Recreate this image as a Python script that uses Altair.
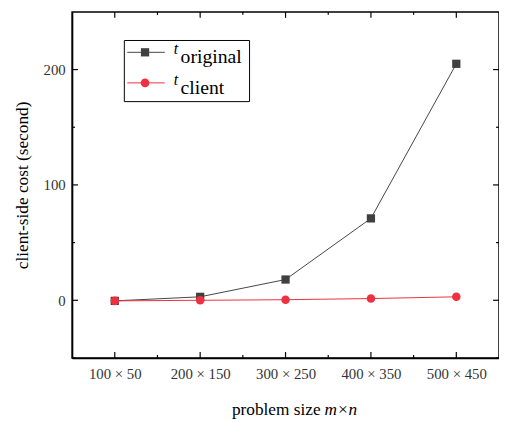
import altair as alt
import pandas as pd
import json

sizes = ["100 × 50", "200 × 150", "300 × 250", "400 × 350", "500 × 450"]
t_original = [-0.5, 3, 18, 71, 205]
t_client = [-0.5, 0, 0.5, 1.5, 3]

W, H = 433, 351
idx = list(range(len(sizes)))
df = pd.DataFrame({"i": idx + idx,
                   "v": t_original + t_client,
                   "s": ["original"] * 5 + ["client"] * 5})

xs = alt.Scale(domain=[-0.5, 4.5], nice=False, zero=False)
ys = alt.Scale(domain=[-50, 250], nice=False, zero=False)
FONT = "Times New Roman, Liberation Serif, serif"
labexpr = "%s[round(datum.value)]" % json.dumps(sizes)

xax = alt.Axis(values=idx, labelExpr=labexpr, ticks=False, grid=False, domainColor="black",
               domainWidth=1.5, labelFont=FONT, labelFontSize=15, labelColor="#333",
               labelPadding=9, title=None)
yax = alt.Axis(values=[0, 100, 200], ticks=False, grid=False, domainColor="black",
               domainWidth=1.5, labelFont=FONT, labelFontSize=15, labelColor="#333",
               labelPadding=7, title="client-side cost (second)", titleFont=FONT,
               titleFontSize=17.5, titleFontWeight="normal", titleColor="black", titlePadding=12)

base = alt.Chart(df)
orig = base.transform_filter("datum.s=='original'")
cli = base.transform_filter("datum.s=='client'")

l_orig = orig.mark_line(color="#444", strokeWidth=1).encode(
    x=alt.X("i:Q", scale=xs, axis=xax), y=alt.Y("v:Q", scale=ys, axis=yax))
p_orig = orig.mark_square(color="#404040", size=70, opacity=1).encode(
    x=alt.X("i:Q", scale=xs), y=alt.Y("v:Q", scale=ys))
l_cli = cli.mark_line(color="#e8323c", strokeWidth=1).encode(
    x=alt.X("i:Q", scale=xs), y=alt.Y("v:Q", scale=ys))
p_cli = cli.mark_circle(color="#ee3040", size=75, opacity=1).encode(
    x=alt.X("i:Q", scale=xs), y=alt.Y("v:Q", scale=ys))

# inward ticks
xmaj = pd.DataFrame({"t": idx})
xmin = pd.DataFrame({"t": [0.5, 1.5, 2.5, 3.5]})
ymaj = pd.DataFrame({"t": [0, 100, 200]})
ymin = pd.DataFrame({"t": [-50, 50, 150]})
tk = []
for d, L in [(xmaj, 6), (xmin, 3)]:
    tk.append(alt.Chart(d).mark_rule(color="black", strokeWidth=1.2).encode(
        x=alt.X("t:Q", scale=xs), y=alt.value(H), y2=alt.value(H - L)))
    tk.append(alt.Chart(d).mark_rule(color="black", strokeWidth=1.2).encode(
        x=alt.X("t:Q", scale=xs), y=alt.value(0), y2=alt.value(L)))
for d, L in [(ymaj, 6), (ymin, 3)]:
    tk.append(alt.Chart(d).mark_rule(color="black", strokeWidth=1.2).encode(
        y=alt.Y("t:Q", scale=ys), x=alt.value(0), x2=alt.value(L)))
    tk.append(alt.Chart(d).mark_rule(color="black", strokeWidth=1.2).encode(
        y=alt.Y("t:Q", scale=ys), x=alt.value(W), x2=alt.value(W - L)))

one = pd.DataFrame({"a": [0]})
oc = alt.Chart(one)
leg = [
    oc.mark_rect(fill="white", stroke="black", strokeWidth=1).encode(
        x=alt.value(53), x2=alt.value(180), y=alt.value(29), y2=alt.value(91)),
    oc.mark_rule(color="#444", strokeWidth=1).encode(x=alt.value(56), x2=alt.value(94), y=alt.value(41)),
    oc.mark_square(color="#404040", size=70, opacity=1).encode(x=alt.value(74), y=alt.value(41)),
    oc.mark_rule(color="#e8323c", strokeWidth=1).encode(x=alt.value(56), x2=alt.value(94), y=alt.value(72)),
    oc.mark_circle(color="#ee3040", size=75, opacity=1).encode(x=alt.value(74), y=alt.value(72)),
    oc.mark_text(text="t", font=FONT, fontSize=16, fontStyle="italic", align="left", baseline="alphabetic").encode(
        x=alt.value(103), y=alt.value(43)),
    oc.mark_text(text="original", font=FONT, fontSize=20, align="left", baseline="alphabetic").encode(
        x=alt.value(110), y=alt.value(52)),
    oc.mark_text(text="t", font=FONT, fontSize=16, fontStyle="italic", align="left", baseline="alphabetic").encode(
        x=alt.value(103), y=alt.value(74)),
    oc.mark_text(text="client", font=FONT, fontSize=20, align="left", baseline="alphabetic").encode(
        x=alt.value(110), y=alt.value(83)),
    oc.mark_text(text="problem size", font=FONT, fontSize=17.5, align="right", baseline="alphabetic").encode(
        x=alt.value(252), y=alt.value(H + 58)),
    oc.mark_text(text="m×n", font=FONT, fontSize=17.5, fontStyle="italic", align="left", baseline="alphabetic").encode(
        x=alt.value(256), y=alt.value(H + 58)),
]

chart = alt.layer(l_orig, l_cli, p_orig, p_cli, *tk, *leg).properties(
    width=W, height=H,
    padding={"left": 65, "top": 1, "right": 0, "bottom": 62},
    autosize=alt.AutoSizeParams(type="none"),
).configure_view(stroke="black", strokeWidth=1.5)

chart.save("out.html", embed_options={"renderer": "svg", "actions": False})
